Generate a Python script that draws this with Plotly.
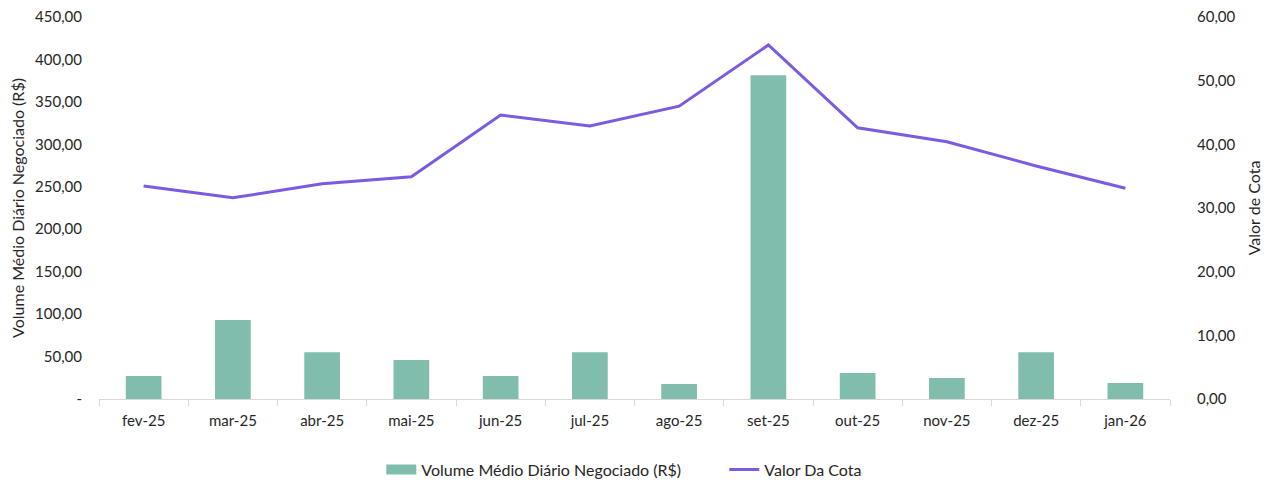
import plotly.graph_objects as go

months = ["fev-25", "mar-25", "abr-25", "mai-25", "jun-25", "jul-25",
          "ago-25", "set-25", "out-25", "nov-25", "dez-25", "jan-26"]
volume = [27, 93, 55, 46, 27, 55, 17.7, 381.5, 30.6, 24.7, 55, 18.8]
cota = [33.45, 31.6, 33.8, 34.9, 44.6, 42.9, 46.0, 55.6, 42.6, 40.4, 36.6, 33.1]

left_vals = [0, 50, 100, 150, 200, 250, 300, 350, 400, 450]
left_text = ["-", "50,00", "100,00", "150,00", "200,00", "250,00", "300,00", "350,00", "400,00", "450,00"]
right_vals = [0, 10, 20, 30, 40, 50, 60]
right_text = ["0,00", "10,00", "20,00", "30,00", "40,00", "50,00", "60,00"]

FONT = "Lato"
BAR_COLOR = "#80bdad"
LINE_COLOR = "#7b5be0"

fig = go.Figure()
fig.add_trace(go.Bar(x=months, y=volume, name="Volume Médio Diário Negociado (R$)",
                     marker=dict(color=BAR_COLOR, line=dict(width=0)), width=0.4, yaxis="y",
                     showlegend=False))
fig.add_trace(go.Scatter(x=months, y=cota, name="Valor Da Cota", mode="lines",
                         line=dict(color=LINE_COLOR, width=3), yaxis="y2", showlegend=False))
# legend entries
fig.add_trace(go.Scatter(x=[None], y=[None], name="Volume Médio Diário Negociado (R$)", mode="lines",
                         line=dict(color=BAR_COLOR, width=11), yaxis="y"))
fig.add_trace(go.Scatter(x=[None], y=[None], name="Valor Da Cota", mode="lines",
                         line=dict(color=LINE_COLOR, width=3), yaxis="y2"))

fig.update_layout(
    width=1274, height=484,
    margin=dict(l=91, r=112, t=9, b=93, autoexpand=False),
    plot_bgcolor="white", paper_bgcolor="white",
    font=dict(family=FONT, size=15, color="#262626"),
    showlegend=True,
    legend=dict(orientation="h", xref="container", x=0.293, xanchor="left",
                yref="container", y=0.011, yanchor="bottom",
                font=dict(size=16), tracegroupgap=0, itemwidth=30,
                entrywidth=298, entrywidthmode="pixels"),
    xaxis=dict(type="category", showline=True, linecolor="#d9d9d9", linewidth=1,
               ticks="outside", tickson="boundaries", ticklen=6, tickcolor="#d9d9d9",
               showgrid=False, ticklabelstandoff=8, automargin=False),
    yaxis=dict(range=[0, 450], tickvals=left_vals, ticktext=left_text, showgrid=False,
               zeroline=False, showline=False, ticks="", ticklabelstandoff=16, automargin=False,
               ticklabeloverflow="allow",
               title=dict(text="Volume Médio Diário Negociado (R$)", font=dict(size=16), standoff=6)),
    yaxis2=dict(range=[0, 60], tickvals=right_vals, ticktext=right_text, overlaying="y",
                side="right", showgrid=False, zeroline=False, showline=False, ticks="",
                ticklabelstandoff=26, automargin=False, ticklabeloverflow="allow",
                title=dict(text="Valor de Cota", font=dict(size=16), standoff=14)),
    bargap=0.6,
)

fig.write_html("out.html")
